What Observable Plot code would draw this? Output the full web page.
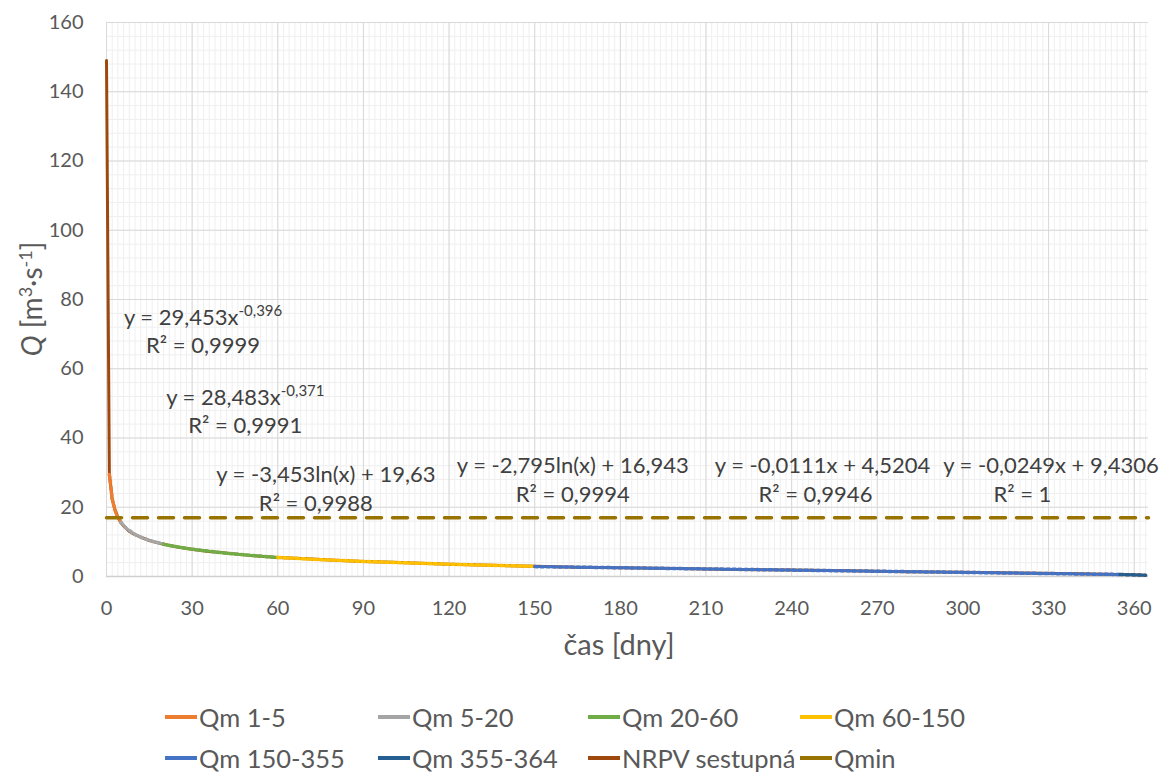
<!DOCTYPE html>
<html><head><meta charset="utf-8">
<script src="https://cdn.jsdelivr.net/npm/d3@7"></script>
<script src="https://cdn.jsdelivr.net/npm/@observablehq/plot@0.6"></script>
<style>
body{margin:0;background:#fff;font-family:Lato,"Open Sans",sans-serif;}
#wrap{position:relative;width:1163px;height:773px;overflow:hidden;}
.item{position:absolute;display:flex;align-items:center;font-size:25.5px;color:#595959;height:26px;line-height:26px;white-space:nowrap;}
.sw{width:32px;height:4px;margin-right:2px;}
</style></head><body><div id="wrap"></div>
<script>
// ---- data ----
const nrpvDays = [0,1,2,3,4,5,6,8,10,12,15,18,20,25,30,35,40,50,60,70,80,90,100,110,120,135,150,165,180,200,220,240,260,280,300,320,340,355,360,364];
const nrpvQ    = [149,29.6,22.3,19.2,17.1,15.6,14.6,13.0,12.1,11.4,10.4,9.7,9.3,8.5,7.9,7.3,6.9,6.1,5.5,5.1,4.7,4.35,4.1,3.8,3.55,3.25,2.95,2.7,2.5,2.3,2.05,1.85,1.65,1.4,1.2,0.98,0.76,0.58,0.47,0.37];

const qm1Days = [1,2,3,4,5];            const qm1Q = [29.45,22.4,19.1,17.0,15.7];
const qm2Days = [5,7,10,13,16,20];      const qm2Q = [15.67,13.84,12.13,11.0,10.18,9.38];
const qm3Days = [20,25,30,40,50,60];    const qm3Q = [9.29,8.51,7.89,6.89,6.12,5.49];
const qm4Days = [60,75,90,105,120,135,150]; const qm4Q = [5.50,4.87,4.36,3.94,3.56,3.23,2.94];
const qm5Days = [150,250,355];          const qm5Q = [2.86,1.74,0.58];
const qm6Days = [355,364];              const qm6Q = [0.59,0.37];
const qminDays = [0,365];               const qminQ = [17,17];

const seriesNames  = ["Qm 1-5","Qm 5-20","Qm 20-60","Qm 60-150","Qm 150-355","Qm 355-364","NRPV sestupná","Qmin"];
const seriesColors = ["#ED7D31","#A5A5A5","#70AD47","#FFC000","#4472C4","#255E91","#9E480E","#997300"];

const xTicks = d3.range(0, 361, 30);
const yTicks = d3.range(0, 161, 20);
const xMinor = d3.range(0, 365, 2);
const yMinor = d3.range(0, 161, 4);

const eqText = [
  {x:34,  y:74.8, x2:34,  y2:66.7, main:"y = 29,453x", sup:"-0,396", r2:"R² = 0,9999"},
  {x:48.8,y:51.6, x2:48.8,y2:43.6, main:"y = 28,483x", sup:"-0,371", r2:"R² = 0,9991"},
  {x:77,  y:29.4, x2:73.5,y2:21.0, main:"y = -3,453ln(x) + 19,63", sup:"", r2:"R² = 0,9988"},
  {x:163.5,y:32.0, x2:163.5,y2:23.6, main:"y = -2,795ln(x) + 16,943", sup:"", r2:"R² = 0,9994"},
  {x:251, y:32.0, x2:248.5,y2:23.6, main:"y = -0,0111x + 4,5204", sup:"", r2:"R² = 0,9946"},
  {x:331, y:32.0, x2:321, y2:23.6, main:"y = -0,0249x + 9,4306", sup:"", r2:"R² = 1"}
];

// ---- build tables ----
const mk = (days, qs) => days.map((d,i)=>({day:d, q:qs[i]}));
const qmSets = [mk(qm1Days,qm1Q),mk(qm2Days,qm2Q),mk(qm3Days,qm3Q),mk(qm4Days,qm4Q),mk(qm5Days,qm5Q),mk(qm6Days,qm6Q)];
const nrpv = mk(nrpvDays, nrpvQ);
const qmin = mk(qminDays, qminQ);

const W = 1163, H = 670;
const plot = Plot.plot({
  width: W, height: H,
  marginLeft: 106, marginRight: 15, marginTop: 22, marginBottom: 94,
  style: {fontFamily: "Lato, 'Open Sans', sans-serif", fontSize: "20px", color: "#595959", background: "#fff"},
  x: {domain: [0, 365], ticks: xTicks, tickSize: 0, tickPadding: 24, label: null},
  y: {domain: [0, 160], ticks: yTicks, tickSize: 0, tickPadding: 23, label: null},
  marks: [
    Plot.ruleX(xMinor, {stroke: "#efefef", strokeWidth: 1}),
    Plot.ruleY(yMinor, {stroke: "#efefef", strokeWidth: 1}),
    Plot.ruleX(xTicks, {stroke: "#d9d9d9", strokeWidth: 1}),
    Plot.ruleY(yTicks, {stroke: "#d9d9d9", strokeWidth: 1}),
    Plot.ruleY([0], {stroke: "#d0d0d0", strokeWidth: 1.5}),
    Plot.line(nrpv, {x: "day", y: "q", stroke: seriesColors[6], strokeWidth: 3}),
    ...qmSets.map((s, i) => Plot.line(s, {x: "day", y: "q", stroke: seriesColors[i], strokeWidth: 3.5, strokeDasharray: "3,3"})),
    Plot.line(qmin, {x: "day", y: "q", stroke: seriesColors[7], strokeWidth: 3.5, strokeDasharray: "15,11"})
  ]
});
const wrap = document.getElementById("wrap");
wrap.appendChild(plot);

const sx = plot.scale("x"), sy = plot.scale("y");
const svg = d3.select(plot);

// equation annotations
eqText.forEach(e => {
  const t = svg.append("text").attr("x", sx.apply(e.x)).attr("y", sy.apply(e.y)).attr("dy", "0.35em")
    .attr("text-anchor", "middle").attr("fill", "#404040").style("font-size", "22px");
  t.append("tspan").text(e.main);
  if (e.sup) t.append("tspan").attr("dy", "-9").style("font-size", "15px").text(e.sup);
  svg.append("text").attr("x", sx.apply(e.x2)).attr("y", sy.apply(e.y2)).attr("dy", "0.35em")
    .attr("text-anchor", "middle").attr("fill", "#404040").style("font-size", "22px").text(e.r2);
});

// axis titles
const yc = (sy.apply(0) + sy.apply(160)) / 2;
const yt = svg.append("text").attr("transform", `translate(32,${yc}) rotate(-90)`).attr("text-anchor", "middle")
  .attr("dy", "0.35em").attr("fill", "#595959").style("font-size", "28px");
yt.append("tspan").style("font-style", "italic").text("Q");
yt.append("tspan").text(" [m");
yt.append("tspan").attr("dy", "-10").style("font-size", "18px").text("3");
yt.append("tspan").attr("dy", "10").text("·s");
yt.append("tspan").attr("dy", "-10").style("font-size", "18px").text("-1");
yt.append("tspan").attr("dy", "10").text("]");

const xc = (sx.apply(0) + sx.apply(365)) / 2;
svg.append("text").attr("x", xc - 8).attr("y", 645).attr("dy", "0.35em").attr("text-anchor", "middle")
  .attr("fill", "#595959").style("font-size", "29px").text("čas [dny]");

// legend
const legLeft = [165, 378, 588, 800];
const legTop = [717, 758];
seriesNames.forEach((n, i) => {
  const div = document.createElement("div");
  div.className = "item";
  div.style.left = legLeft[i % 4] + "px";
  div.style.top = (legTop[Math.floor(i / 4)] - 13) + "px";
  div.innerHTML = `<span class="sw" style="background:${seriesColors[i]}"></span><span>${n}</span>`;
  wrap.appendChild(div);
});
</script></body></html>
